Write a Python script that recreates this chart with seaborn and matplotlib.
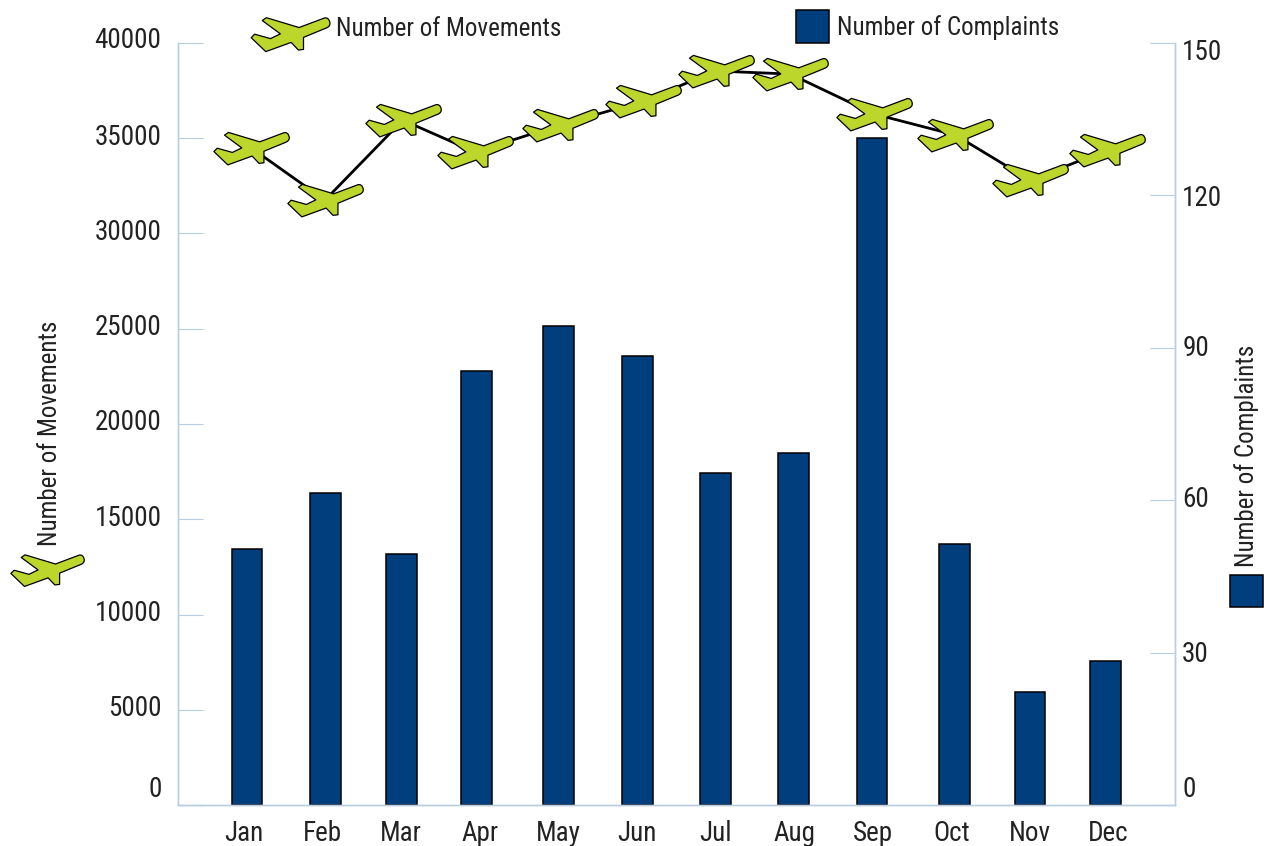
import matplotlib
matplotlib.use("Agg")
import matplotlib.pyplot as plt
import matplotlib.font_manager as fm
from matplotlib.lines import Line2D
from matplotlib.patches import Rectangle
from matplotlib.path import Path
from matplotlib.markers import MarkerStyle
from matplotlib.transforms import ScaledTranslation
import numpy as np
import pandas as pd
import seaborn as sns

months = ["Jan", "Feb", "Mar", "Apr", "May", "Jun", "Jul", "Aug", "Sep", "Oct", "Nov", "Dec"]
movements = [34500, 31750, 35950, 34280, 35700, 36950, 38530, 38370, 36270, 35170, 32800, 34380]
complaints = [50.4, 61.4, 49.4, 85.4, 94.2, 88.4, 65.4, 69.2, 131.3, 51.4, 22.2, 28.4]
left_ticks = [0, 5000, 10000, 15000, 20000, 25000, 30000, 35000, 40000]
right_ticks = [0, 30, 60, 90, 120, 150]

# hand-placed drift of the marks from their month tick (in month units)
bar_drift = [0.04, 0.04, 0.0, -0.04, 0.0, 0.01, 0.0, -0.01, -0.01, 0.04, 0.0, -0.04]
plane_drift = [0.09, 0.03, 0.02, -0.06, 0.02, 0.08, 0.0, -0.05, 0.02, 0.05, 0.0, -0.02]
# vertical shift of the tick labels, in pixels (up is positive)
left_label_shift = [19, 4, 4, 3.5, 4, 4, 4, 4, 5]
right_label_shift = [19, 1.6, 3.5, 2, -0.4, -6]

W, H = 1264, 846
AX_L, AX_R, AX_T, AX_B = 177.5, 1174.5, 43, 805
TICK0, STEP = 244, 78.6
LIME, NAVY, STEEL, INK = "#bdd62c", "#003e7e", "#b9cde0", "#222222"

sns.set_theme(style="white")
names = {f.name for f in fm.fontManager.ttflist}
candidates = ["Roboto Condensed", "Archivo Narrow", "Fira Sans Condensed", "Liberation Sans Narrow", "Liberation Sans"]
narrow = next(c for c in candidates if c in names)
plt.rcParams["font.family"] = [narrow, "DejaVu Sans"]
FS = 19.5
FS_TITLE = 18

# airplane outline (traced, y up)
pts = [(240, 23), (160, 53), (57, 22), (44, 31), (101, 73), (70, 88), (20, 74), (9, 85),
       (55, 129), (135, 100), (158, 124), (174, 122), (174, 84), (247, 54)]
cx, cy = 133, 75
def rel(p): return (p[0] - cx, cy - p[1])
v = [rel(p) for p in pts]
verts = v + [rel((260, 48)), rel((257, 36)), rel((253, 20)), v[0], v[0]]
codes = [Path.MOVETO] + [Path.LINETO] * (len(v) - 1) + [Path.CURVE3] * 4 + [Path.CLOSEPOLY]
plane = Path(verts, codes)

fig = plt.figure(figsize=(W / 100, H / 100), dpi=100)
ax = fig.add_axes([AX_L / W, 1 - AX_B / H, (AX_R - AX_L) / W, (AX_B - AX_T) / H])
ax2 = ax.twinx()

idx = np.arange(len(months))
df = pd.DataFrame({"pos": idx + np.array(bar_drift), "complaints": complaints})
min_gap = np.diff(df["pos"]).min()
sns.barplot(data=df, x="pos", y="complaints", native_scale=True, ax=ax2,
            width=0.39 / min_gap, color=NAVY, saturation=1, edgecolor="black", linewidth=1.1)
ln = pd.DataFrame({"pos": idx + np.array(plane_drift), "movements": movements})
sns.lineplot(data=ln, x="pos", y="movements", ax=ax, color="black", linewidth=2.0,
             sort=False, legend=False)
sns.scatterplot(data=ln, x="pos", y="movements", ax=ax, marker=MarkerStyle(plane),
                s=55.5 ** 2, color=LIME, edgecolor="black", linewidth=0.9, zorder=5, legend=False)

ax.set_zorder(2)
ax.patch.set_visible(False)
xlim = ((AX_L - TICK0) / STEP, (AX_R - TICK0) / STEP)
for a in (ax, ax2):
    a.set_xlim(xlim)
    a.set_xlabel("")
    a.set_ylabel("")
    a.grid(False)
    for s in a.spines.values():
        s.set_color(STEEL)
        s.set_linewidth(1.0)
    a.spines["top"].set_visible(False)
ax.set_ylim(0, 40000)
ax2.set_ylim(0, 150)
ax.set_yticks(left_ticks)
ax2.set_yticks(right_ticks)
ax.set_xticks(idx)
ax.set_xticklabels(months)
ax.xaxis.set_visible(True)
ax.tick_params(axis="x", length=0, pad=10.5, labelsize=FS, labelcolor=INK, labelbottom=True)
ax.tick_params(axis="y", direction="in", length=18, width=0.8, color=STEEL, pad=11.5,
               labelsize=FS, labelcolor=INK)
ax2.tick_params(axis="y", direction="in", length=18, width=0.8, color=STEEL, pad=5.5,
                labelsize=FS, labelcolor=INK)
ax.set_yticklabels([str(t) for t in left_ticks])
ax2.set_yticklabels([str(t) for t in right_ticks])
fig.canvas.draw()
for a, shifts in ((ax, left_label_shift), (ax2, right_label_shift)):
    labels = a.yaxis.get_ticklabels()
    if a is ax2:
        labels = [t.label2 for t in a.yaxis.get_major_ticks()]
    for lab, dy in zip(labels, shifts):
        lab.set_transform(lab.get_transform() + ScaledTranslation(0, dy * 0.72 / 72, fig.dpi_scale_trans))

def fx(x): return x / W
def fy(y): return 1 - y / H

def fig_plane(x, y, ms):
    fig.add_artist(Line2D([fx(x)], [fy(y)], transform=fig.transFigure, marker=MarkerStyle(plane),
                          markersize=ms, markerfacecolor=LIME, markeredgecolor="black",
                          markeredgewidth=0.9, linestyle="none"))

def fig_square(x0, y0, x1, y1):
    fig.add_artist(Rectangle((fx(x0), fy(y1)), (x1 - x0) / W, (y1 - y0) / H, transform=fig.transFigure,
                             facecolor=NAVY, edgecolor="black", linewidth=1.1))

# legend entries
fig_plane(290, 34, 58)
fig.text(fx(336), fy(28.5), "Number of Movements", fontsize=FS_TITLE, color=INK, ha="left", va="center")
fig_square(796, 10.5, 829, 43)
fig.text(fx(837), fy(27.5), "Number of Complaints", fontsize=FS_TITLE, color=INK, ha="left", va="center")

# axis titles with their keys
fig.text(fx(50), fy(433.5), "Number of Movements", fontsize=FS_TITLE, color=INK, rotation=90, ha="center", va="center")
fig_plane(47, 570, 54)
fig.text(fx(1247), fy(456), "Number of Complaints", fontsize=FS_TITLE, color=INK, rotation=90, ha="center", va="center")
fig_square(1230, 575, 1263, 607)

fig.savefig("out.png", dpi=100)
